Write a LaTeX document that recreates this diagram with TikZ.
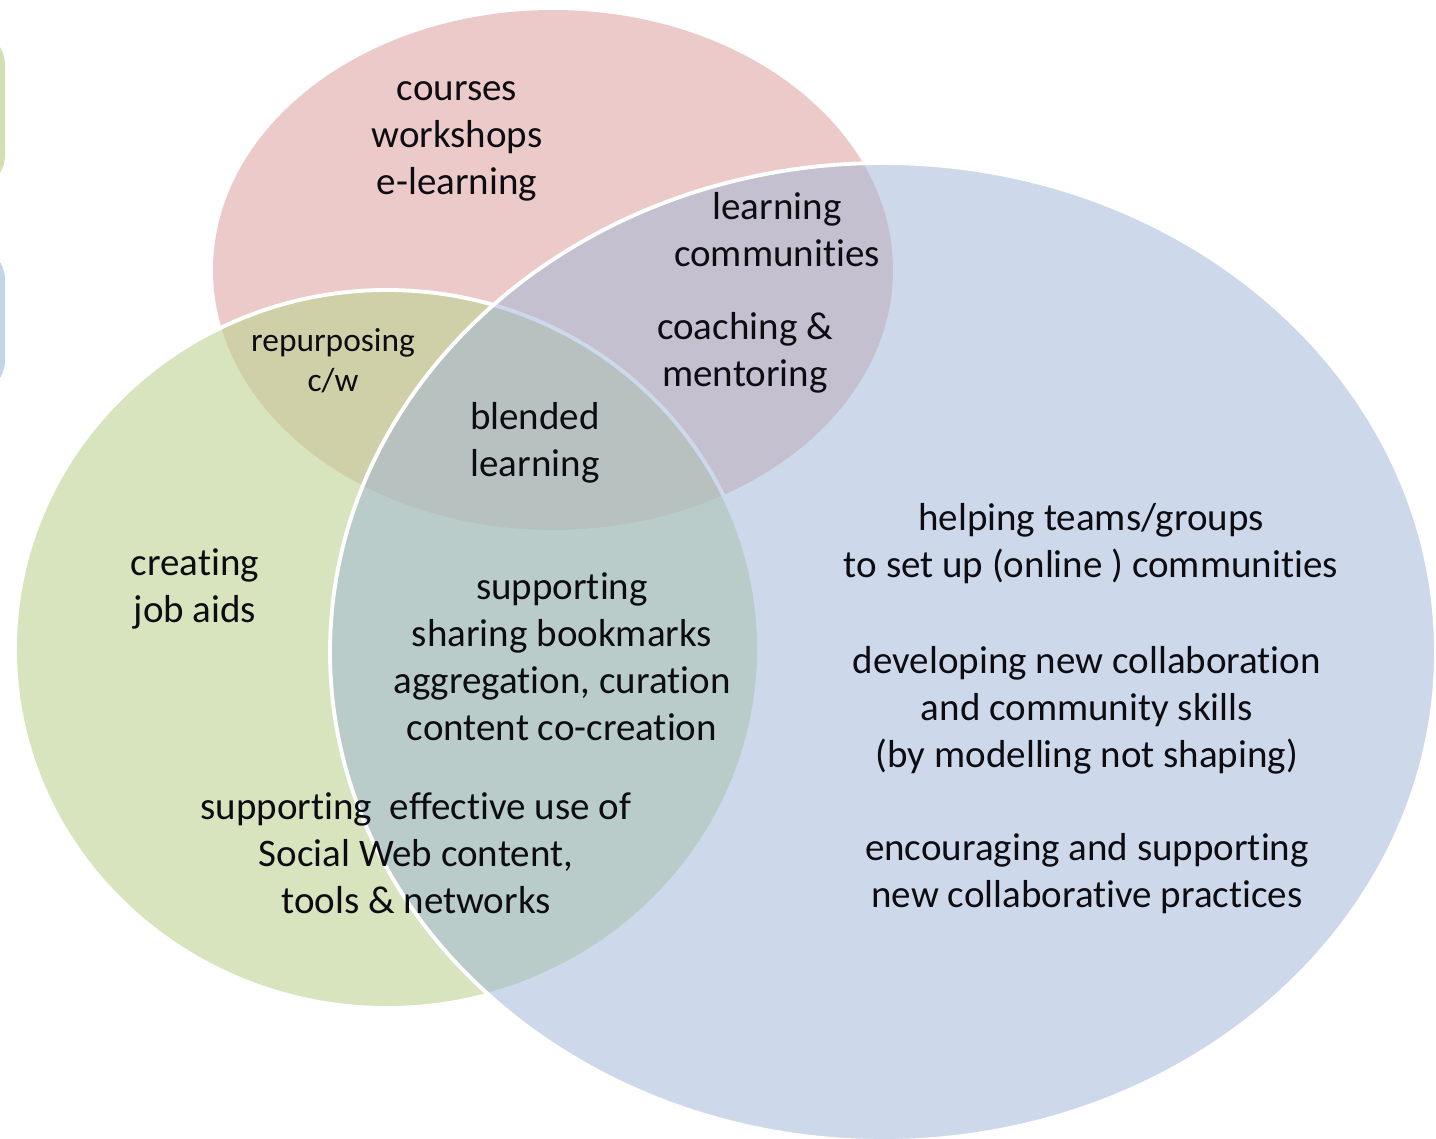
\documentclass[tikz,border=0pt]{standalone}
\usepackage{fontspec}
\setmainfont{Carlito}[Ligatures=NoCommon]
\definecolor{redset}{RGB}{192,80,77}
\definecolor{greenset}{RGB}{190,211,148}
\definecolor{blueset}{RGB}{160,183,215}
\definecolor{txt}{RGB}{12,12,18}
\begin{document}
\begin{tikzpicture}[x=0.1mm, y=-0.1mm,
  set/.style={draw=white, line width=1.1pt},
  lbl/.style={align=center, text=txt, inner sep=0pt, font=\fontsize{11.1}{13.4}\selectfont},
  smalllbl/.style={lbl, font=\fontsize{9.5}{11.4}\selectfont}]
\useasboundingbox (0,0) rectangle (1436,1139);
\fill[greenset!70, rounded corners=10] (-80,30) rectangle (5,190);
\fill[blueset!60, rounded corners=10] (-80,245) rectangle (5,395);
\fill[redset, fill opacity=0.3] (553,270) ellipse [x radius=340, y radius=260];
\path[set, fill=greenset, fill opacity=0.62] (387,649) ellipse [x radius=372, y radius=359];
\path[set, fill=blueset, fill opacity=0.52] (883,652) ellipse [x radius=553, y radius=489];
\node[lbl] (courses) at (457,141) {courses\\workshops\\e-learning};
\node[lbl] (lcomm) at (777,230) {learning\\communities};
\node[lbl] (coach) at (745,353) {coaching \&\\mentoring};
\node[smalllbl] (repurp) at (333,361) {repurposing\\c/w};
\node[lbl] (blended) at (535,443) {blended\\learning};
\node[lbl] (jobaids) at (195,589) {creating\\job aids};
\node[lbl] (sharing) at (562,657) {supporting\\sharing bookmarks\\aggregation, curation\\content co-creation};
\node[lbl] (socialweb) at (416,853) {supporting\ \ effective use of\\Social Web content,\\tools \& networks};
\node[lbl] (helping) at (1091,544) {helping teams/groups\\to set up (online ) communities};
\node[lbl] (developing) at (1087,710) {developing new collaboration\\and community skills\\(by modelling not shaping)};
\node[lbl] (encouraging) at (1087,874) {encouraging and supporting\\new collaborative practices};
\end{tikzpicture}
\end{document}
